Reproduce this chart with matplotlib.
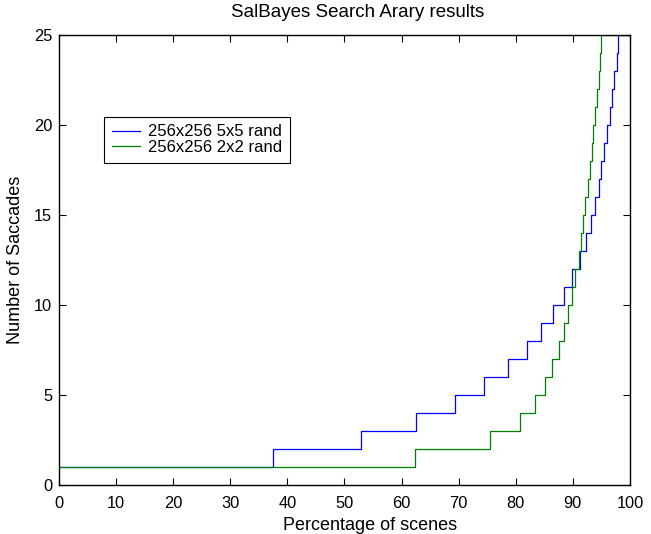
import numpy as np
import matplotlib
matplotlib.use('Agg')
import matplotlib.pyplot as plt

plt.rcParams['font.family'] = ['Liberation Sans', 'DejaVu Sans']

# percentage of scenes at which the saccade count steps up, and the new count
pct_5x5 = [0, 37.4, 52.9, 62.6, 69.4, 74.5, 78.6, 81.9, 84.5, 86.6, 88.4, 89.9,
           91.2, 92.3, 93.1, 93.9, 94.6, 94.9, 95.5, 95.9, 96.5, 96.8, 97.2,
           97.7, 97.9, 100]
sac_5x5 = [1, 2, 3, 4, 5, 6, 7, 8, 9, 10, 11, 12, 13, 14, 15, 16, 17, 18, 19,
           20, 21, 22, 23, 24, 25, 25]

pct_2x2 = [0, 62.3, 75.5, 80.7, 83.4, 85.2, 86.4, 87.5, 88.4, 89.2, 89.8, 90.4,
           91.0, 91.4, 91.8, 92.2, 92.7, 93.0, 93.3, 93.6, 93.9, 94.2, 94.5,
           94.7, 95.0, 100]
sac_2x2 = [1, 2, 3, 4, 5, 6, 7, 8, 9, 10, 11, 12, 13, 14, 15, 16, 17, 18, 19,
           20, 21, 22, 23, 24, 25, 25]

labels = ['256x256 5x5 rand', '256x256 2x2 rand']
xticks = np.arange(0, 101, 10)
yticks = np.arange(0, 26, 5)

fig = plt.figure(figsize=(6.51, 5.34), dpi=100)
ax = fig.add_axes([0.0906, 0.0918, 0.8771, 0.8427])

ax.plot(pct_5x5, sac_5x5, drawstyle='steps-post', color='#0000ff', lw=0.9,
        label=labels[0])
ax.plot(pct_2x2, sac_2x2, drawstyle='steps-post', color='#008000', lw=0.9,
        label=labels[1])

ax.set_xlim(0, 100)
ax.set_ylim(0, 25)
ax.set_xticks(xticks)
ax.set_yticks(yticks)
ax.tick_params(direction='in', top=True, right=True, length=5, width=0.8,
               labelsize=11.8)
ax.tick_params(axis='x', pad=8)
ax.tick_params(axis='y', pad=5)
for s in ax.spines.values():
    s.set_linewidth(1.0)

ax.set_title('SalBayes Search Arary results', fontsize=13.5,
             x=0.5236, y=1.022, va='baseline')
ax.set_xlabel('Percentage of scenes', fontsize=13)
ax.xaxis.label.set_va('baseline')
ax.xaxis.set_label_coords(0.5447, -0.1)
ax.set_ylabel('Number of Saccades', fontsize=13)
ax.yaxis.set_label_coords(-0.062, 0.5)

leg = ax.legend(loc='upper left', bbox_to_anchor=(0.079, 0.818),
                borderaxespad=0, fancybox=False, fontsize=12,
                handlelength=1.7, handletextpad=0.5, borderpad=0.45,
                labelspacing=0.05, framealpha=1)
leg.get_frame().set_edgecolor('black')
leg.get_frame().set_linewidth(0.8)

plt.savefig('out.png', dpi=100)
